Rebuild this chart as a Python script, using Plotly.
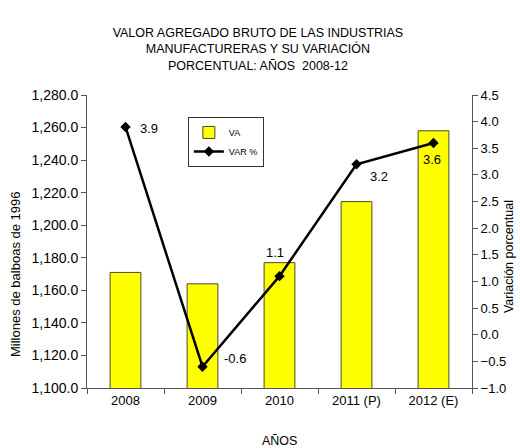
import plotly.graph_objects as go

years = ["2008", "2009", "2010", "2011 (P)", "2012 (E)"]
va = [1171.0, 1164.0, 1177.0, 1214.5, 1258.0]
var_pct = [3.9, -0.6, 1.1, 3.2, 3.6]
var_labels = ["3.9", "-0.6", "1.1", "3.2", "3.6"]

FONT = "Liberation Sans, Arial, sans-serif"
AX = "#555555"

fig = go.Figure()
fig.add_trace(go.Bar(
    x=years, y=va, name="VA", width=0.4,
    marker=dict(color="#FFFF00", line=dict(color="#4a4a2a", width=1)),
    yaxis="y",
))
fig.add_trace(go.Scatter(
    x=years, y=var_pct, name="VAR %", mode="lines+markers",
    line=dict(color="black", width=2.5),
    marker=dict(symbol="diamond", size=8, color="black"),
    yaxis="y2",
))

# data labels (category index positions), offsets per point
shifts = [(12, -2, "left"), (19, 8, "left"), (-5, 24, "center"), (22, -12, "center"), (-2, -17, "center")]
for i, (v, lab, (dx, dy, xa)) in enumerate(zip(var_pct, var_labels, shifts)):
    fig.add_annotation(x=i, y=v, xref="x", yref="y2", text=lab, showarrow=False,
                       xshift=dx, yshift=dy, xanchor=xa, yanchor="middle",
                       font=dict(size=13, color="black", family=FONT))

fig.update_layout(
    width=520, height=448,
    margin=dict(l=87, r=48, t=95, b=60),
    paper_bgcolor="white", plot_bgcolor="white",
    font=dict(family=FONT, size=13, color="black"),
    showlegend=True,
    legend=dict(x=0.262, y=0.925, xanchor="left", yanchor="top",
                bgcolor="white", bordercolor="#333333", borderwidth=1,
                font=dict(size=9, family=FONT), itemwidth=30),
    title=dict(text="VALOR AGREGADO BRUTO DE LAS INDUSTRIAS<br>MANUFACTURERAS Y SU VARIACIÓN<br>PORCENTUAL: AÑOS  2008-12",
               x=0.496, xanchor="center", y=0.917, yanchor="middle",
               font=dict(size=12.5, family=FONT, color="black")),
    xaxis=dict(type="category", categoryorder="array", categoryarray=years,
               tickson="boundaries", ticks="outside", ticklen=5, tickcolor=AX,
               showline=True, linecolor=AX, linewidth=1, showgrid=False,
               tickfont=dict(size=13), range=[-0.5, 4.5]),
    xaxis3=dict(overlaying="x", range=[-0.5, 4.5], tick0=0.5, dtick=1,
                ticks="inside", ticklen=5, tickcolor=AX, showticklabels=False,
                showline=False, showgrid=False, zeroline=False, anchor="y"),
    yaxis=dict(range=[1100, 1280], dtick=20, tickformat=",.1f",
               ticks="outside", ticklen=5, tickcolor=AX, showline=True,
               linecolor=AX, linewidth=1, showgrid=False, zeroline=False,
               tickfont=dict(size=14)),
    yaxis3=dict(overlaying="y", range=[1100, 1280], dtick=20, side="left",
                ticks="inside", ticklen=5, tickcolor=AX, showticklabels=False,
                showline=False, showgrid=False, zeroline=False, anchor="x"),
    yaxis2=dict(overlaying="y", side="right", range=[-1, 4.5], dtick=0.5,
                tickformat=".1f", ticks="outside", ticklen=5, tickcolor=AX,
                showline=True, linecolor=AX, linewidth=1, showgrid=False,
                zeroline=False, tickfont=dict(size=13), anchor="x"),
    yaxis4=dict(overlaying="y", side="right", range=[-1, 4.5], dtick=0.5,
                ticks="inside", ticklen=5, tickcolor=AX, showticklabels=False,
                showline=False, showgrid=False, zeroline=False, anchor="x"),
)

# axis titles
fig.add_annotation(text="Millones de balboas de 1996", xref="paper", yref="paper",
                   x=-0.187, y=0.389, textangle=-90, showarrow=False,
                   xanchor="center", yanchor="middle", font=dict(size=13, family=FONT))
fig.add_annotation(text="Variación porcentual", xref="paper", yref="paper",
                   x=1.096, y=0.45, textangle=-90, showarrow=False,
                   xanchor="center", yanchor="middle", font=dict(size=12.5, family=FONT))
fig.add_annotation(text="AÑOS", xref="paper", yref="paper",
                   x=0.5, y=-0.181, showarrow=False,
                   xanchor="center", yanchor="middle", font=dict(size=12.5, family=FONT))

fig.write_html("out.html", config={"displayModeBar": False},
               post_script="document.body.style.margin='0';")
